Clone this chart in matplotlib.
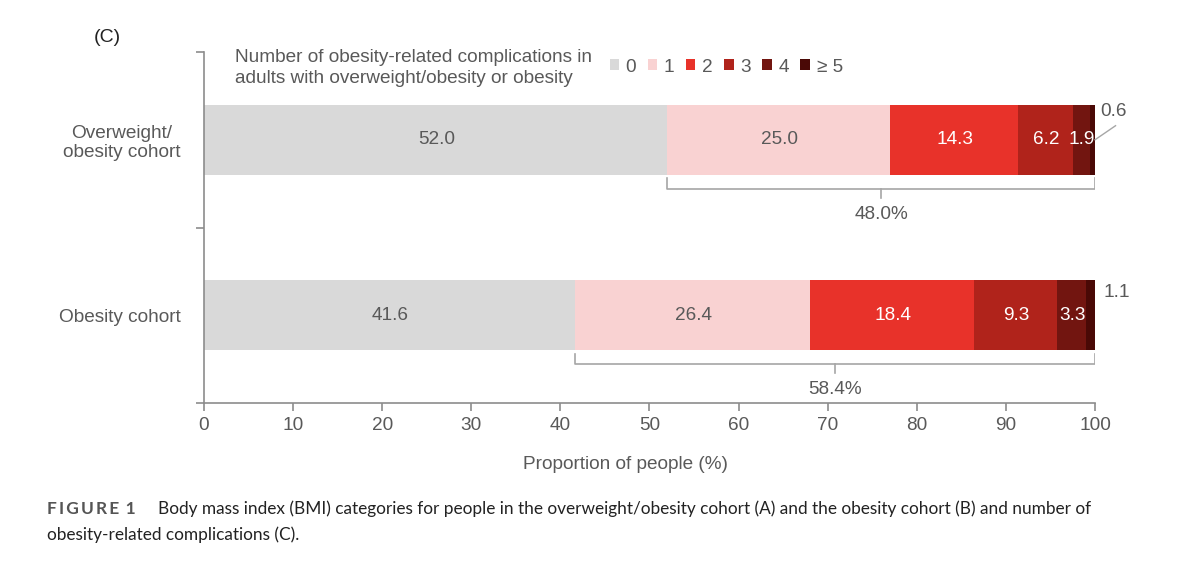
import numpy as np
import matplotlib
matplotlib.use("Agg")
from matplotlib import pyplot as plt

cohorts = ["Overweight/\nobesity cohort", "Obesity cohort"]
categories = ["0", "1", "2", "3", "4", "\u2265 5"]
# rows: overweight/obesity, obesity
values = np.array([
    [52.0, 25.0, 14.3, 6.2, 1.9, 0.6],
    [41.6, 26.4, 18.4, 9.3, 3.3, 1.1],
])
with_complications = ["48.0%", "58.4%"]
colors = ["#D9D9D9", "#F9D2D2", "#E8322A", "#B0231B", "#721510", "#4A0906"]
text_colors = ["#595959", "#595959", "white", "white", "white", "white"]
grey = "#595959"
fs = 13.7

plt.rcParams["font.family"] = ["Liberation Sans", "DejaVu Sans"]

fig = plt.figure(figsize=(11.99, 5.67), dpi=100)
ax = fig.add_axes([0.1701, 0.2892, 0.7432, 0.6191])

ypos = [1, 0]
lefts = np.zeros(2)
bars = []
for j, cat in enumerate(categories):
    b = ax.barh(ypos, values[:, j], left=lefts, height=0.4, color=colors[j], label=cat)
    bars.append(b)
    for i in range(2):
        v = values[i, j]
        if j < 5:
            ax.text(lefts[i] + v / 2 + 0.1, ypos[i], f"{v:.1f}", ha="center", va="center",
                    fontsize=fs, color=text_colors[j])
    lefts = lefts + values[:, j]

# small last segments labelled outside
ax.text(100.6, 1.16, f"{values[0, 5]:.1f}", ha="left", va="center", fontsize=fs, color=grey, clip_on=False)
ax.plot([100.0, 102.3], [1.0, 1.08], color="#A6A6A6", lw=1, clip_on=False)
ax.text(100.9, 0.13, f"{values[1, 5]:.1f}", ha="left", va="center", fontsize=fs, color=grey, clip_on=False)

# brackets for >=1 complication
for i in range(2):
    start = values[i, 0]
    end = 100
    y_top = ypos[i] - 0.22
    y_mid = ypos[i] - 0.28
    y_tip = ypos[i] - 0.33
    mid = (start + end) / 2
    ax.plot([start, start, end, end], [y_top, y_mid, y_mid, y_top], color="#A6A6A6", lw=1.2)
    ax.plot([mid, mid], [y_mid, y_tip], color="#A6A6A6", lw=1.2)
    ax.text(mid, ypos[i] - 0.425, with_complications[i], ha="center", va="center", fontsize=fs, color=grey)

ax.set_xlim(0, 100)
ax.set_ylim(-0.5, 1.5)
ax.set_xticks(np.arange(0, 101, 10))
ax.set_yticks(ypos)
ax.set_yticklabels(cohorts, fontsize=fs, color=grey, multialignment="center")
ax.set_yticks([-0.5, 0.5, 1.5], minor=True)
ax.tick_params(axis="y", which="major", length=0, pad=17)
ax.tick_params(axis="y", which="minor", length=6, color="#8C8C8C", width=1.2)
ax.tick_params(axis="x", length=6, color="#8C8C8C", width=1.2, labelsize=fs, labelcolor=grey, pad=4)
for s in ["top", "right"]:
    ax.spines[s].set_visible(False)
for s in ["left", "bottom"]:
    ax.spines[s].set_color("#8C8C8C")
    ax.spines[s].set_linewidth(1.2)
ax.set_xlabel("Proportion of people (%)", fontsize=fs, color=grey)
ax.xaxis.set_label_coords(0.4725, -0.15)

fig.text(235 / 1199, 1 - 68 / 567, "Number of obesity-related complications in\nadults with overweight/obesity or obesity",
         ha="left", va="center", fontsize=fs, color=grey, linespacing=1.25)
ax.legend(handles=bars, loc="center left", bbox_to_anchor=(600 / 1199, 1 - 67 / 567),
          bbox_transform=fig.transFigure, ncol=6, frameon=False, fontsize=fs, labelcolor=grey,
          handlelength=0.5, handleheight=0.5, handletextpad=0.35, columnspacing=0.6, borderpad=0)

fig.text(107 / 1199, 1 - 38 / 567, "(C)", ha="center", va="center", fontsize=14, color="#222222")

fig.text(47 / 1199, 1 - 509 / 567, "F\u2009I\u2009G\u2009U\u2009R\u2009E\u2009 1", ha="left", va="center",
         fontsize=12.5, fontweight="bold", color="#555555", family=["Lato", "DejaVu Sans"])
fig.text(158 / 1199, 1 - 509 / 567,
         "Body mass index (BMI) categories for people in the overweight/obesity cohort (A) and the obesity cohort (B) and number of",
         ha="left", va="center", fontsize=12.45, color="#222222", family="Lato")
fig.text(47 / 1199, 1 - 535 / 567, "obesity-related complications (C).",
         ha="left", va="center", fontsize=12.45, color="#222222", family="Lato")

fig.savefig("out.png", dpi=100)
